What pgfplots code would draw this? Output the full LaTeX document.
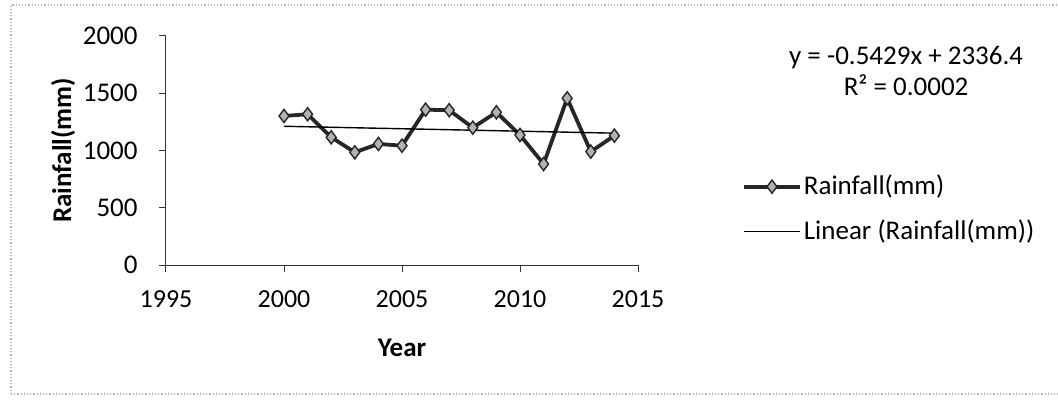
\documentclass[border=0pt]{standalone}
\usepackage{fontspec}
\setmainfont{Carlito}
\usepackage{pgfplots}
\pgfplotsset{compat=1.18}
\pgfplotsset{
  marklegend/.style={legend image code/.code={\draw[mark repeat=2,mark phase=2,##1] plot coordinates {(0pt,0pt) (14pt,0pt) (28pt,0pt)};}},
  linelegend/.style={legend image code/.code={\draw[##1] (0pt,0pt) -- (28pt,0pt);}},
}
\begin{document}
\fontsize{13.5}{16}\selectfont
\begin{tikzpicture}[x=1pt,y=1pt]
\useasboundingbox (-83,-69) rectangle (446,132.5);
\draw[gray!60, line width=0.6pt, densely dotted] (-77.5,-64.5) -- (-77.5,130) -- (470,130);
\draw[gray!60, line width=0.6pt, densely dotted] (-77.5,-64.5) -- (470,-64.5);
\begin{axis}[
  at={(0,0)}, anchor=south west,
  width=236pt, height=114.65pt, scale only axis,
  xmin=1995, xmax=2015, ymin=0, ymax=2000,
  xtick={1995,2000,2005,2010,2015},
  ytick={0,500,1000,1500,2000},
  axis x line*=bottom, axis y line*=left,
  axis line style={-, black!80, line width=0.5pt},
  tick align=outside, major tick length=3.5pt,
  tick style={black!80, line width=0.5pt},
  /pgf/number format/1000 sep={},
  /pgf/number format/assume math mode=true,
  yticklabel style={font=\fontsize{13.5}{16}\selectfont, xshift=-6pt},
  xticklabel style={font=\fontsize{13}{16}\selectfont, yshift=-4.5pt},
  xlabel={\textbf{Year}},
  ylabel={\textbf{Rainfall(mm)}},
  xlabel style={at={(axis description cs:0.5,-0.362)}, anchor=center},
  ylabel style={at={(axis description cs:-0.218,0.5)}, anchor=center},
  legend style={at={(rel axis cs:1.2197,0.244)}, anchor=west, draw=none, fill=none,
    inner sep=0pt, row sep=8.5pt, nodes={inner sep=1pt, font=\fontsize{13.5}{16}\selectfont}},
  legend cell align=left,
  clip=false,
]
\addplot[black!85, line width=1.9pt, mark=diamond*, mark size=3.3pt,
  mark options={fill=gray!60, draw=black!85, line width=0.7pt}, marklegend]
coordinates {
(2000,1300) (2001,1315) (2002,1114) (2003,983) (2004,1056) (2005,1041)
(2006,1355) (2007,1350) (2008,1198) (2009,1332) (2010,1134) (2011,881)
(2012,1454) (2013,989) (2014,1128)
};
\addlegendentry{Rainfall(mm)}
\addplot[black, line width=0.7pt, linelegend]
coordinates {(2000,1210) (2014,1150)};
\addlegendentry{Linear (Rainfall(mm))}
\node[align=center, font=\fontsize{13.5}{15.5}\selectfont] at (rel axis cs:1.568,0.845)
  {y = -0.5429x + 2336.4\\R² = 0.0002};
\end{axis}
\end{tikzpicture}
\end{document}
